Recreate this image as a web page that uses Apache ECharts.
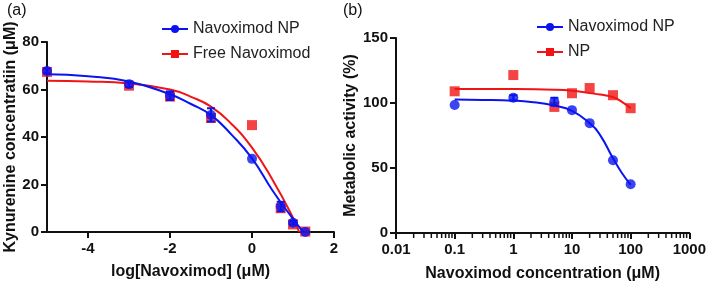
<!DOCTYPE html>
<html>
<head>
<meta charset="utf-8">
<script src="https://cdn.jsdelivr.net/npm/echarts@6/dist/echarts.min.js"></script>
<style>
  html, body { margin: 0; padding: 0; background: #fff; }
  #main { width: 709px; height: 288px; }
</style>
</head>
<body>
<div id="main"></div>
<script>
// panel (a): kynurenine vs log dose
const logDose = [-5, -3, -2, -1, 0, 0.7, 1, 1.3]
const npKyn = [67.8, 62.2, 57.4, 49.3, 30.8, 10.7, 3.9, 0]
const npKynErr = [1, 1.2, 1.8, 2.8, 0, 2, 0.8, 0]
const freeKyn = [67.4, 61.6, 57.0, 48.0, 45.0, 10.0, 3.2, 0.2]
// fitted curves
const npFitX = [-5, -4, -3, -2, -1.5, -1, -0.5, 0, 0.5, 1, 1.25]
const npFitY = [66.4, 65.6, 63.4, 58, 54, 49.2, 41, 31, 17.5, 5.5, 0]
const freeFitX = [-5, -4, -3, -2, -1.5, -1, -0.5, 0, 0.5, 1, 1.15]
const freeFitY = [63.7, 63.4, 62.5, 60, 57, 52.8, 45.5, 35.5, 22, 6, 0]
const doseTicks = [-4, -2, 0, 2]

// panel (b): metabolic activity vs concentration
const conc = [0.1, 1, 5, 10, 20, 50, 100]
const npAct = [98.5, 104, 101, 94.5, 84.5, 56, 37.5]
const npActErr = [0, 2, 3, 0, 0, 0, 0]
const emptyAct = [109, 121.5, 97, 107.5, 111.5, 106, 96]
const npActFitX = [0.1, 0.3, 1, 2, 5, 10, 20, 30, 50, 70, 100]
const npActFitY = [102.6, 102.4, 101.8, 100.8, 98, 94, 84.5, 75.5, 57.5, 46.5, 37]
const emptyFitX = [0.1, 1, 5, 10, 20, 30, 50, 70, 100]
const emptyFitY = [110.8, 110.7, 110.2, 109.4, 107.6, 106.5, 104.5, 101, 95.9]
const concTicks = [0.01, 0.1, 1, 10, 100, 1000]
const concMinor = [0.02, 0.03, 0.04, 0.05, 0.06, 0.07, 0.08, 0.09,
  0.2, 0.3, 0.4, 0.5, 0.6, 0.7, 0.8, 0.9,
  2, 3, 4, 5, 6, 7, 8, 9,
  20, 30, 40, 50, 60, 70, 80, 90,
  200, 300, 400, 500, 600, 700, 800, 900]

const BLUE = '#0a14f0'
const RED = '#f01414'
const FONT = '"Liberation Sans", Arial, sans-serif'

const zip = (xs, ys) => xs.map((x, i) => [x, ys[i]])

function errorBars(xs, ys, es, color, xi, yi) {
    return {
        type: 'custom',
        xAxisIndex: xi,
        yAxisIndex: yi,
        z: 4,
        silent: true,
        data: xs.map((x, i) => [x, ys[i], es[i]]),
        renderItem: function (params, api) {
            const x = api.value(0), y = api.value(1), e = api.value(2)
            if (!e) return
            const hi = api.coord([x, y + e])
            const lo = api.coord([x, y - e])
            const style = {stroke: color, lineWidth: 2}
            return {
                type: 'group',
                children: [
                    {type: 'line', shape: {x1: hi[0], y1: hi[1], x2: lo[0], y2: lo[1]}, style: style},
                    {type: 'line', shape: {x1: hi[0] - 4, y1: hi[1], x2: hi[0] + 4, y2: hi[1]}, style: style},
                    {type: 'line', shape: {x1: lo[0] - 4, y1: lo[1], x2: lo[0] + 4, y2: lo[1]}, style: style}
                ]
            }
        }
    }
}

// short log ticks under the (b) x axis, hung off y = 0
const minorTicks = {
    type: 'custom',
    xAxisIndex: 1,
    yAxisIndex: 1,
    silent: true,
    clip: false,
    z: 10,
    data: concMinor.map(v => [v, 0]),
    renderItem: function (params, api) {
        const p = api.coord([api.value(0), api.value(1)])
        return {
            type: 'line',
            shape: {x1: p[0], y1: p[1], x2: p[0], y2: p[1] + 5},
            style: {stroke: '#111', lineWidth: 1.5}
        }
    }
}

const axisLine = {show: true, onZero: false, lineStyle: {color: '#111', width: 2}}
const tick = {show: true, length: 6, lineStyle: {color: '#111', width: 2}}
const tickLabel = {color: '#111', fontFamily: FONT, fontWeight: 'bold', fontSize: 15}
const nameStyle = {color: '#111', fontFamily: FONT, fontWeight: 'bold', fontSize: 16}

const chart = echarts.init(document.getElementById('main'))

chart.setOption({
    animation: false,
    graphic: [
        {type: 'text', left: 7, top: 3, style: {text: '(a)', fontSize: 16, fontFamily: FONT, fill: '#111'}},
        {type: 'text', left: 343, top: 3, style: {text: '(b)', fontSize: 16, fontFamily: FONT, fill: '#111'}}
    ],
    legend: [
        {
            orient: 'vertical', left: 156, top: 16, itemWidth: 26, itemHeight: 10, itemGap: 9,
            textStyle: {fontSize: 16, fontFamily: FONT, color: '#222'},
            data: ['Navoximod NP', 'Free Navoximod']
        },
        {
            orient: 'vertical', left: 531, top: 14, itemWidth: 26, itemHeight: 10, itemGap: 9,
            textStyle: {fontSize: 16, fontFamily: FONT, color: '#222'},
            data: ['Navoximod NP ', 'NP']
        }
    ],
    grid: [
        {left: 47, top: 42, width: 287, height: 190},
        {left: 396, top: 38, width: 295, height: 195}
    ],
    xAxis: [
        {
            gridIndex: 0, type: 'value', min: -5, max: 2,
            name: 'log[Navoximod] (\u03bcM)', nameLocation: 'middle', nameGap: 32, nameTextStyle: nameStyle,
            axisLine: axisLine,
            axisTick: Object.assign({customValues: doseTicks}, tick),
            axisLabel: Object.assign({customValues: doseTicks, margin: 9}, tickLabel),
            splitLine: {show: false}
        },
        {
            gridIndex: 1, type: 'log', logBase: 10, min: 0.01, max: 1000,
            name: 'Navoximod concentration (\u03bcM)', nameLocation: 'middle', nameGap: 33, nameTextStyle: nameStyle,
            axisLine: axisLine,
            axisTick: Object.assign({customValues: concTicks}, tick),
            axisLabel: Object.assign({customValues: concTicks, margin: 9, formatter: v => String(v)}, tickLabel),
            splitLine: {show: false}
        }
    ],
    yAxis: [
        {
            gridIndex: 0, type: 'value', min: 0, max: 80, interval: 20,
            name: 'Kynurenine concentratiin (\u03bcM)', nameLocation: 'middle', nameGap: 28, nameTextStyle: nameStyle,
            axisLine: axisLine, axisTick: tick,
            axisLabel: Object.assign({margin: 8}, tickLabel),
            splitLine: {show: false}
        },
        {
            gridIndex: 1, type: 'value', min: 0, max: 150, interval: 50,
            name: 'Metabolic activity (%)', nameLocation: 'middle', nameGap: 37, nameTextStyle: nameStyle,
            axisLine: axisLine, axisTick: tick,
            axisLabel: Object.assign({margin: 8}, tickLabel),
            splitLine: {show: false}
        }
    ],
    series: [
        // panel a
        {
            name: 'Free Navoximod', type: 'line', xAxisIndex: 0, yAxisIndex: 0, smooth: true,
            data: zip(freeFitX, freeFitY), showSymbol: false, symbol: 'rect', symbolSize: 10,
            lineStyle: {color: RED, width: 2}, itemStyle: {color: RED}, z: 2
        },
        {
            name: 'Free Navoximod', type: 'scatter', xAxisIndex: 0, yAxisIndex: 0, clip: false,
            data: zip(logDose, freeKyn), symbol: 'rect', symbolSize: 10, itemStyle: {color: RED}, z: 3
        },
        {
            name: 'Navoximod NP', type: 'line', xAxisIndex: 0, yAxisIndex: 0, smooth: true,
            data: zip(npFitX, npFitY), showSymbol: false, symbol: 'circle', symbolSize: 10,
            lineStyle: {color: BLUE, width: 2}, itemStyle: {color: BLUE}, z: 4
        },
        errorBars(logDose, npKyn, npKynErr, BLUE, 0, 0),
        {
            name: 'Navoximod NP', type: 'scatter', xAxisIndex: 0, yAxisIndex: 0, clip: false,
            data: zip(logDose, npKyn), symbol: 'circle', symbolSize: 10, itemStyle: {color: BLUE}, z: 5
        },
        // panel b
        {
            name: 'NP', type: 'line', xAxisIndex: 1, yAxisIndex: 1, smooth: true,
            data: zip(emptyFitX, emptyFitY), showSymbol: false, symbol: 'rect', symbolSize: 10,
            lineStyle: {color: RED, width: 2}, itemStyle: {color: RED}, z: 2
        },
        {
            name: 'NP', type: 'scatter', xAxisIndex: 1, yAxisIndex: 1, clip: false,
            data: zip(conc, emptyAct), symbol: 'rect', symbolSize: 10, itemStyle: {color: RED}, z: 3
        },
        {
            name: 'Navoximod NP ', type: 'line', xAxisIndex: 1, yAxisIndex: 1, smooth: true,
            data: zip(npActFitX, npActFitY), showSymbol: false, symbol: 'circle', symbolSize: 10,
            lineStyle: {color: BLUE, width: 2}, itemStyle: {color: BLUE}, z: 4
        },
        errorBars(conc, npAct, npActErr, BLUE, 1, 1),
        {
            name: 'Navoximod NP ', type: 'scatter', xAxisIndex: 1, yAxisIndex: 1, clip: false,
            data: zip(conc, npAct), symbol: 'circle', symbolSize: 10, itemStyle: {color: BLUE}, z: 5
        },
        minorTicks
    ]
})
</script>
</body>
</html>
